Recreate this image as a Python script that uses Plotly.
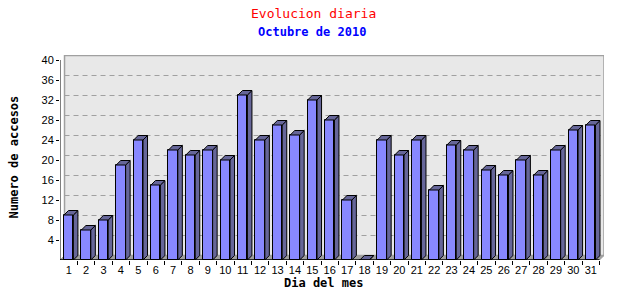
import plotly.graph_objects as go

days = list(range(1, 32))
day_labels = [str(d) for d in days]
accesos = [9, 6, 8, 19, 24, 15, 22, 21, 22, 20, 33, 24, 27, 25, 32, 28, 12, 0,
           24, 21, 24, 14, 23, 22, 18, 17, 20, 17, 22, 26, 27]
y_ticks = [4, 8, 12, 16, 20, 24, 28, 32, 36, 40]

W = 0.54          # bar front width (category units)
DX = 0.26         # depth offset x (category units)
DY = 0.9          # depth offset y (value units)
FRONT = "#8888ff"
SIDE = "#666699"
x0, x1 = 0.5, 31.5
ymax = 40

fig = go.Figure()

sx, sy = [], []
tx, ty = [], []
for d, v in zip(days, accesos):
    r = d + W / 2
    l = d - W / 2
    sx += [r, r + DX, r + DX, r, r, None]
    sy += [0, DY, v + DY, v, 0, None]
    tx += [l, r, r + DX, l + DX, l, None]
    ty += [v, v, v + DY, v + DY, v, None]

fig.add_trace(go.Bar(x=days, y=accesos, width=W, marker=dict(color=FRONT, line=dict(color="black", width=1)),
                     hoverinfo="skip"))
fig.add_trace(go.Scatter(x=sx, y=sy, mode="lines", fill="toself", fillcolor=SIDE,
                         line=dict(color="black", width=1), hoverinfo="skip"))
fig.add_trace(go.Scatter(x=tx, y=ty, mode="lines", fill="toself", fillcolor=SIDE,
                         line=dict(color="black", width=1), hoverinfo="skip"))

shapes = []
shapes.append(dict(type="rect", xref="x", yref="y", x0=x0 + DX, x1=x1 + DX, y0=DY, y1=ymax + DY,
                   fillcolor="#e8e8e8", line=dict(color="#a0a0a0", width=1.5), layer="below"))
shapes.append(dict(type="path", xref="x", yref="y",
                   path=f"M {x0},0 L {x1},0 L {x1 + DX},{DY} L {x0 + DX},{DY} Z",
                   fillcolor="#a0a0a0", line=dict(color="#a0a0a0", width=1), layer="below"))
for t in y_ticks[:-1]:
    shapes.append(dict(type="line", xref="x", yref="y", x0=x0 + DX, x1=x1 + DX, y0=t + DY, y1=t + DY,
                       line=dict(color="#a0a0a0", width=1, dash="5px,4px"), layer="below"))
shapes.append(dict(type="line", xref="x", yref="y", x0=x0, x1=x0, y0=0, y1=ymax,
                   line=dict(color="black", width=1)))
shapes.append(dict(type="line", xref="x", yref="y", x0=x0, x1=x1, y0=0, y1=0,
                   line=dict(color="black", width=1.5)))

fig.update_layout(
    width=640, height=300,
    margin=dict(l=60, r=36, t=55, b=40),
    paper_bgcolor="white", plot_bgcolor="white",
    showlegend=False, bargap=0,
    shapes=shapes,
    font=dict(family="Liberation Sans, Arial, sans-serif", size=11, color="black"),
    xaxis=dict(range=[x0, x1 + DX], tickmode="array", tickvals=days, ticktext=day_labels,
               ticks="", showgrid=False, zeroline=False, showline=False,
               tickfont=dict(size=11), ticklabelstandoff=2,
               minor=dict(tickmode="array", tickvals=[d + 0.5 for d in days], ticks="outside",
                          ticklen=4, tickcolor="black", tickwidth=1, showgrid=False)),
    yaxis=dict(range=[0, ymax + 1], tickmode="array", tickvals=y_ticks,
               ticks="outside", ticklen=3, tickcolor="black", showgrid=False, zeroline=False,
               showline=False, tickfont=dict(size=11)),
    annotations=[
        dict(text="Evolucion diaria", xref="paper", yref="paper", x=0, y=1, xanchor="center",
             yanchor="middle", showarrow=False, xshift=313 - 60, yshift=55 - 13,
             font=dict(family="DejaVu Sans Mono", size=13, color="#ff0000")),
        dict(text="<b>Octubre de 2010</b>", xref="paper", yref="paper", x=0, y=1,
             xanchor="center", yanchor="middle", showarrow=False, xshift=312 - 60, yshift=55 - 32,
             font=dict(family="DejaVu Sans Mono", size=12, color="#0000ff")),
        dict(text="<b>Numero de accesos</b>", xref="paper", yref="paper", x=0, y=0.5,
             xanchor="center", yanchor="middle", showarrow=False, textangle=-90, xshift=-47,
             font=dict(family="DejaVu Sans Mono", size=12, color="black")),
        dict(text="<b>Dia del mes</b>", xref="paper", yref="paper", x=0, y=0,
             xanchor="center", yanchor="middle", showarrow=False, xshift=263, yshift=-23,
             font=dict(family="DejaVu Sans Mono", size=12, color="black")),
    ],
)

fig.write_html("out.html")
